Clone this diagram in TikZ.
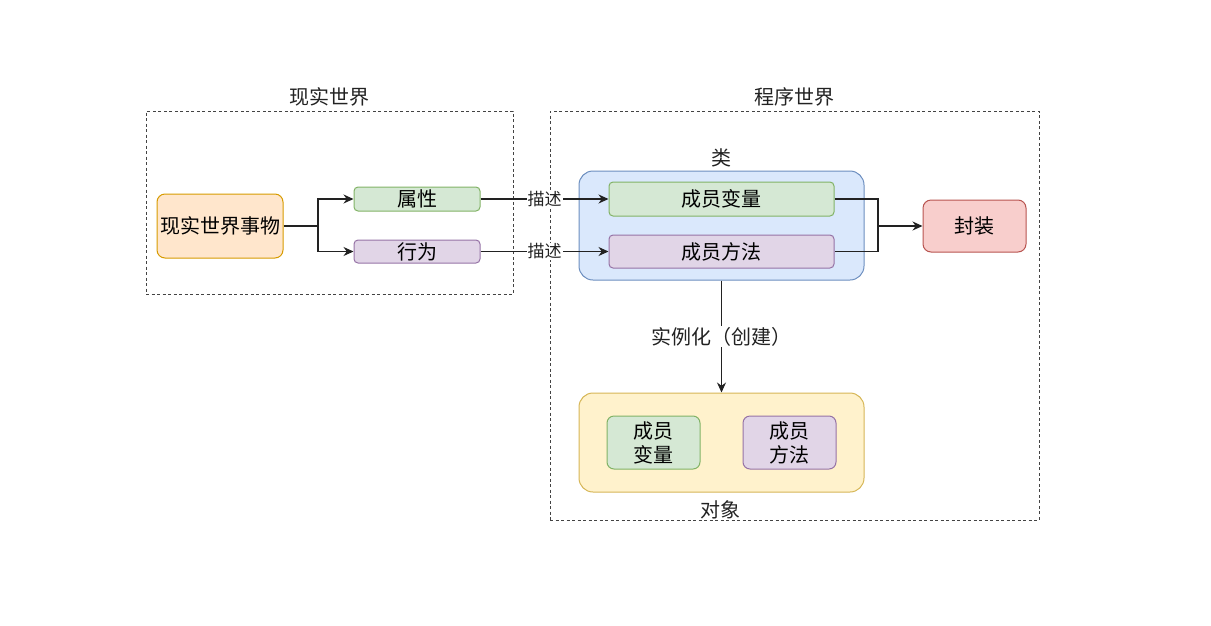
\documentclass[tikz,border=0pt]{standalone}
\usepackage{fontspec}
\setmainfont{Noto Sans CJK SC}
\usetikzlibrary{arrows.meta,positioning}
\definecolor{ofill}{HTML}{FFE6CC}\definecolor{oline}{HTML}{D79B00}
\definecolor{gfill}{HTML}{D5E8D4}\definecolor{gline}{HTML}{82B366}
\definecolor{pfill}{HTML}{E1D5E7}\definecolor{pline}{HTML}{9673A6}
\definecolor{bfill}{HTML}{DAE8FC}\definecolor{bline}{HTML}{6C8EBF}
\definecolor{rfill}{HTML}{F8CECC}\definecolor{rline}{HTML}{B85450}
\definecolor{yfill}{HTML}{FFF2CC}\definecolor{yline}{HTML}{D6B656}
\definecolor{ink}{HTML}{222222}
\tikzset{
  big/.style={font=\fontsize{20}{22}\selectfont},
  small/.style={font=\fontsize{17}{19}\selectfont},
  frame/.style={draw=ink!85, line width=1pt, dash pattern=on 3pt off 2.5pt},
  boxg/.style={draw=gline, fill=gfill, line width=1pt, rounded corners=4pt, inner sep=0pt, big},
  boxp/.style={draw=pline, fill=pfill, line width=1pt, rounded corners=4pt, inner sep=0pt, big},
  conn/.style={draw=ink, line width=1.2pt},
  arr/.style={conn, -{Stealth[length=10pt,width=9pt]}},
  lbl/.style={fill=white, inner sep=1pt, text=ink},
}
\begin{document}
\begin{tikzpicture}[x=1pt,y=-1pt]
\useasboundingbox (0,0) rectangle (1211,625);
% frames
\node[frame, minimum width=367pt, minimum height=183pt, inner sep=0pt] (realf) at (329.5,202.5) {};
\node[big, text=ink] (realt) at (329,97) {现实世界};
\node[frame, minimum width=489pt, minimum height=409pt, inner sep=0pt] (progf) at (794.5,315.5) {};
\node[big, text=ink] (progt) at (794,97) {程序世界};
% real world
\node[draw=oline, fill=ofill, line width=1pt, rounded corners=8pt, minimum width=126pt, minimum height=64pt, inner sep=0pt, big] (thing) at (220,226) {现实世界事物};
\node[boxg, minimum width=126pt, minimum height=24pt] (attr) at (417,199) {属性};
\node[boxp, minimum width=126pt, minimum height=23pt] (behav) at (417,251.5) {行为};
% class
\node[draw=bline, fill=bfill, line width=1pt, rounded corners=14pt, minimum width=285pt, minimum height=109pt, inner sep=0pt] (cls) at (721.5,225.5) {};
\node[big, text=ink] (clst) at (721,158) {类};
\node[boxg, minimum width=225pt, minimum height=34pt] (mvar) at (721.5,199) {成员变量};
\node[boxp, minimum width=225pt, minimum height=33pt] (mmeth) at (721.5,251.5) {成员方法};
\node[draw=rline, fill=rfill, line width=1pt, rounded corners=8pt, minimum width=103pt, minimum height=52pt, inner sep=0pt, big] (enc) at (974.5,226) {封装};
% object
\node[draw=yline, fill=yfill, line width=1pt, rounded corners=14pt, minimum width=285pt, minimum height=99pt, inner sep=0pt] (obj) at (721.5,442.5) {};
\node[big, text=ink] (objt) at (720,510) {对象};
\node[boxg, rounded corners=7pt, minimum width=93pt, minimum height=53pt, align=center, font=\fontsize{20}{24}\selectfont] (ovar) at (653.5,442.5) {成员\\变量};
\node[boxp, rounded corners=7pt, minimum width=93pt, minimum height=53pt, align=center, font=\fontsize{20}{24}\selectfont] (ometh) at (789.5,442.5) {成员\\方法};
% connectors
\coordinate (split) at (318,226);
\draw[conn] (thing.east) -- (split);
\draw[arr] (split) |- (attr.west);
\draw[arr] (split) |- (behav.west);
\draw[arr] (attr.east) -- node[lbl, small, pos=0.5] (d1) {描述} (mvar.west);
\draw[arr] (behav.east) -- node[lbl, small, pos=0.5] (d2) {描述} (mmeth.west);
\coordinate (merge) at (878,226);
\draw[conn] (mvar.east) -| (merge);
\draw[conn] (mmeth.east) -| (merge);
\draw[arr] (merge) -- (enc.west);
\draw[arr] (cls.south) -- node[lbl, big, pos=0.5] (inst) {实例化（创建）} (obj.north);
\end{tikzpicture}
\end{document}
